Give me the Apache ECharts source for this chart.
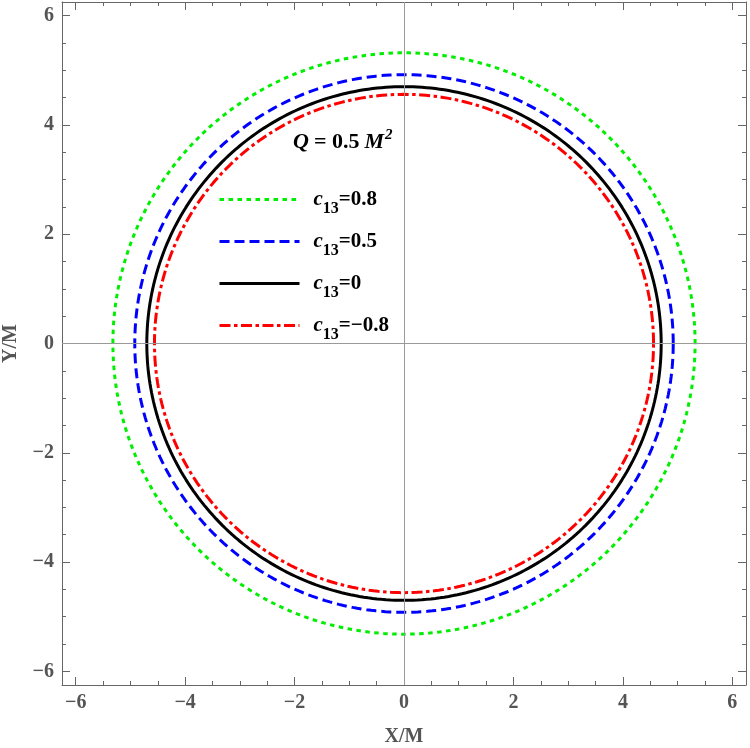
<!DOCTYPE html>
<html>
<head>
<meta charset="utf-8">
<title>shadow</title>
<script src="https://cdn.jsdelivr.net/npm/echarts@6/dist/echarts.min.js"></script>
<style>
  html, body { margin: 0; padding: 0; background: #fff; }
  #main { width: 750px; height: 748px; }
</style>
</head>
<body>
<div id="main"></div>
<script>
// curve labels and shadow radii
var labels = ['0.8', '0.5', '0', '−0.8'];
var radii = [5.32, 4.92, 4.70, 4.56];
// axis ticks
var majorTicks = [-6, -4, -2, 0, 2, 4, 6];
var minorTicks = [-5.5, -5, -4.5, -3.5, -3, -2.5, -1.5, -1, -0.5, 0.5, 1, 1.5, 2.5, 3, 3.5, 4.5, 5, 5.5];
var axisMin = -6.25, axisMax = 6.25;

var chart = echarts.init(document.getElementById('main'));

var font = '"Liberation Serif", "DejaVu Serif", serif';
var frameColor = '#666';

function circle(r) {
  var pts = [];
  for (var a = 0; a <= 360; a++) {
    var t = a * Math.PI / 180;
    pts.push([r * Math.cos(t), r * Math.sin(t)]);
  }
  return pts;
}

function fmt(v) {
  return String(v).replace('-', '−');
}

function axis(kind, pos, ticks, len, withLabel, showLine, extra) {
  var o = {
    type: 'value', position: pos, min: axisMin, max: axisMax,
    splitLine: { show: false },
    axisLine: { show: showLine, onZero: false, lineStyle: { color: frameColor, width: 1 } },
    axisTick: { show: true, inside: true, length: len, customValues: ticks, lineStyle: { color: frameColor } },
    axisLabel: withLabel ? {
      customValues: ticks, formatter: fmt, color: '#555', fontFamily: font,
      fontWeight: 'bold', fontSize: 20, margin: 8
    } : { show: false }
  };
  for (var k in extra) o[k] = extra[k];
  return o;
}

var styles = [
  { color: '#00ee00', type: [4.5, 4.5] },
  { color: '#0000ff', type: [10, 5] },
  { color: '#000000', type: 'solid' },
  { color: '#ff0000', type: [11, 3.5, 3.5, 3.5] }
];

var series = labels.map(function (lab, i) {
  return {
    name: lab, type: 'line', data: circle(radii[i]), symbol: 'none',
    showSymbol: false, animation: false, z: 3,
    lineStyle: { color: styles[i].color, type: styles[i].type, width: 3 },
    itemStyle: { color: styles[i].color }
  };
});
series.unshift({
  name: 'axes', type: 'line', data: [], symbol: 'none', z: 1, animation: false,
  markLine: {
    silent: true, symbol: 'none', label: { show: false }, animation: false,
    lineStyle: { color: '#999', width: 1, type: 'solid' },
    data: [{ xAxis: 0 }, { yAxis: 0 }]
  }
});

var richText = {
  c: { fontFamily: font, fontStyle: 'italic', fontWeight: 'bold', fontSize: 21, color: '#000', padding: [0, 0, 0, 9] },
  s: { fontFamily: font, fontWeight: 'bold', fontSize: 16, color: '#000', padding: [18, 0, 0, 0] },
  t: { fontFamily: font, fontWeight: 'bold', fontSize: 21, color: '#000' }
};

chart.setOption({
  backgroundColor: '#fff',
  animation: false,
  grid: { left: 62, right: 4, top: 2, bottom: 63, containLabel: false, outerBoundsMode: 'none' },
  title: {
    left: 293, top: 128, padding: 0,
    text: '{i|Q} {b|= 0.5} {i|M}{p|2}',
    textStyle: {
      rich: {
        i: { fontFamily: font, fontStyle: 'italic', fontWeight: 'bold', fontSize: 22, color: '#000' },
        b: { fontFamily: font, fontWeight: 'bold', fontSize: 22, color: '#000' },
        p: { fontFamily: font, fontStyle: 'italic', fontWeight: 'bold', fontSize: 15, color: '#000', padding: [0, 0, 14, 1] }
      }
    }
  },
  legend: {
    data: labels, orient: 'vertical', left: 218, top: 189, padding: 0,
    itemWidth: 80, itemHeight: 20, itemGap: 14.5, selectedMode: false,
    itemStyle: { opacity: 0 },
    lineStyle: { width: 3 },
    formatter: function (name) { return '{c|c}{s|13}{t|=' + name + '}'; },
    textStyle: { rich: richText, lineHeight: 20 }
  },
  xAxis: [
    axis('x', 'bottom', majorTicks, 8, true, true, { name: 'X/M', nameLocation: 'middle', nameGap: 42,
      nameTextStyle: { fontFamily: font, fontWeight: 'bold', fontSize: 20, color: '#555' } }),
    axis('x', 'bottom', minorTicks, 4, false, false, {}),
    axis('x', 'top', majorTicks, 8, false, true, {}),
    axis('x', 'top', minorTicks, 4, false, false, {})
  ],
  yAxis: [
    axis('y', 'left', majorTicks, 8, true, true, { name: 'Y/M', nameLocation: 'middle', nameGap: 41,
      nameTextStyle: { fontFamily: font, fontWeight: 'bold', fontSize: 20, color: '#555' } }),
    axis('y', 'left', minorTicks, 4, false, false, {}),
    axis('y', 'right', majorTicks, 8, false, true, {}),
    axis('y', 'right', minorTicks, 4, false, false, {})
  ],
  series: series
});
window.onresize = chart.resize;
</script>
</body>
</html>
